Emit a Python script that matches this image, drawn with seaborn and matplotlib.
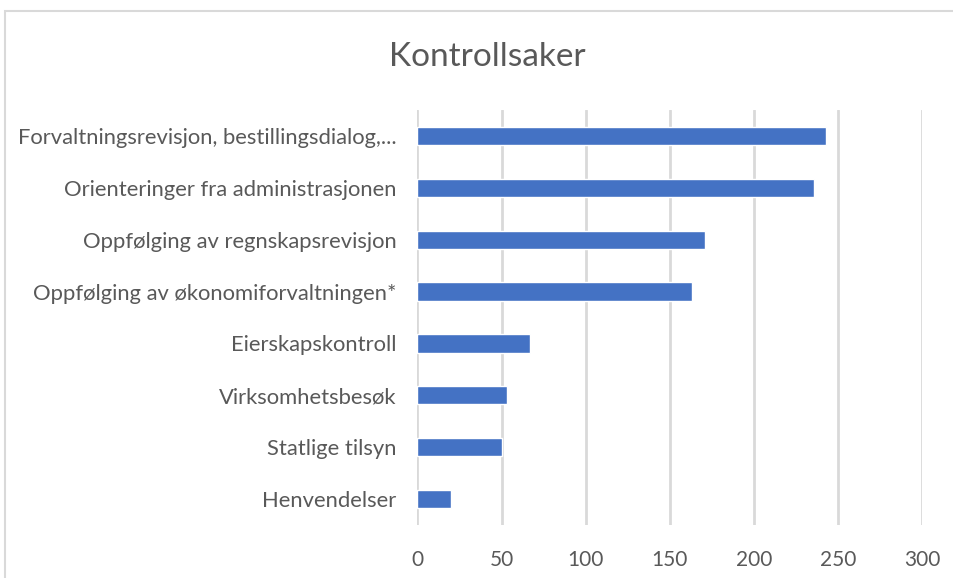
import matplotlib
matplotlib.use("Agg")
import matplotlib.pyplot as plt
import matplotlib.patches as mpatches
import pandas as pd
import seaborn as sns

# data
categories = [
    "Forvaltningsrevisjon, bestillingsdialog,...",
    "Orienteringer fra administrasjonen",
    "Oppfølging av regnskapsrevisjon",
    "Oppfølging av økonomiforvaltningen*",
    "Eierskapskontroll",
    "Virksomhetsbesøk",
    "Statlige tilsyn",
    "Henvendelser",
]
counts = [243, 236, 171, 163, 67, 53, 50, 20]
x_ticks = [0, 50, 100, 150, 200, 250, 300]

df = pd.DataFrame({"sak": categories, "antall": counts})

sns.set_style("white")
plt.rcParams["font.family"] = ["Lato", "DejaVu Sans"]

text_grey = "#595959"
grid_grey = "#d9d9d9"

fig = plt.figure(figsize=(9.54, 5.78), dpi=100)
ax = fig.add_axes([417.5 / 954, 1 - 525 / 578, (922 - 417.5) / 954, (525 - 110) / 578])

sns.barplot(data=df, x="antall", y="sak", orient="h", color="#4472C4",
            width=0.35, saturation=1, ax=ax, zorder=3)

ax.set_xlim(0, 300)
ax.set_xticks(x_ticks)
ax.xaxis.grid(True, color=grid_grey, linewidth=2, zorder=0)
ax.set_axisbelow(True)
for s in ax.spines.values():
    s.set_visible(False)
ax.set_xlabel("")
ax.set_ylabel("")
ax.tick_params(axis="both", length=0, colors=text_grey)
ax.tick_params(axis="y", pad=15, labelsize=15.8)
ax.tick_params(axis="x", pad=18, labelsize=15)

fig.text(487 / 954, 1 - 57 / 578, "Kontrollsaker", ha="center", va="center",
         fontsize=24, color=text_grey)

# chart frame (only left and top edges are visible in the crop)
frame = mpatches.Rectangle((5 / 954, -0.1), 1.2, 1 - 11 / 578 + 0.1,
                           transform=fig.transFigure, fill=False,
                           edgecolor=grid_grey, linewidth=1.5)
fig.patches.append(frame)

fig.savefig("out.png", dpi=100)
